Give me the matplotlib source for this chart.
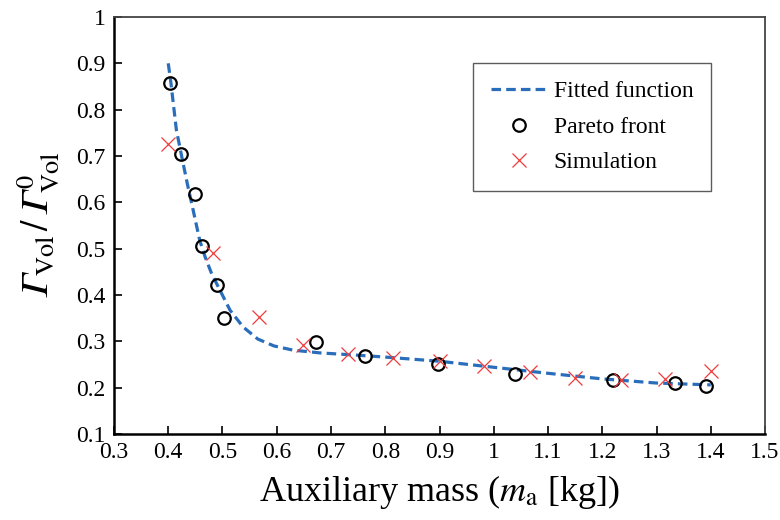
import numpy as np
import matplotlib
matplotlib.use("Agg")
import matplotlib.pyplot as plt

plt.rcParams['font.family'] = ['Liberation Serif', 'DejaVu Serif']
plt.rcParams['mathtext.fontset'] = 'stix'

# Pareto front (circles)
pareto_x = [0.403, 0.4235, 0.449, 0.462, 0.490, 0.503, 0.672, 0.762, 0.898, 1.040, 1.219, 1.334, 1.391]
pareto_y = [0.858, 0.704, 0.618, 0.505, 0.421, 0.351, 0.299, 0.268, 0.252, 0.230, 0.216, 0.209, 0.204]

# Simulation (crosses)
sim_x = [0.400, 0.483, 0.567, 0.648, 0.732, 0.815, 0.901, 0.982, 1.067, 1.150, 1.234, 1.316, 1.400]
sim_y = [0.725, 0.490, 0.353, 0.292, 0.272, 0.265, 0.258, 0.246, 0.234, 0.221, 0.216, 0.218, 0.236]

# Fitted function
fit_x = [0.400, 0.405, 0.415, 0.425, 0.435, 0.445, 0.458, 0.468, 0.480, 0.492, 0.514, 0.538,
         0.565, 0.595, 0.630, 0.680, 0.750, 0.800, 0.900, 1.000, 1.100, 1.200, 1.300, 1.400]
fit_y = [0.900, 0.857, 0.756, 0.698, 0.641, 0.588, 0.518, 0.482, 0.446, 0.418, 0.367, 0.331,
         0.305, 0.290, 0.281, 0.275, 0.270, 0.266, 0.257, 0.244, 0.231, 0.219, 0.210, 0.206]

fig = plt.figure(figsize=(7.8, 5.2), dpi=100)
ax = fig.add_axes([114/780, 1-434/520, 651/780, 417/520])

ax.plot(fit_x, fit_y, ls=(0, (3, 1.6)), color='#2a6ebb', lw=2.3, label='Fitted function')
ax.plot(pareto_x, pareto_y, 'o', mfc='none', mec='black', ms=9, mew=1.6, label='Pareto front')
ax.plot(sim_x, sim_y, 'x', color='#f03c3c', ms=10, mew=0.9, label='Simulation')

ax.set_xlim(0.3, 1.5)
ax.set_ylim(0.1, 1.0)
ax.set_xticks(np.arange(0.3, 1.51, 0.1))
ax.set_yticks(np.arange(0.1, 1.01, 0.1))
ax.set_xticklabels(['0.3', '0.4', '0.5', '0.6', '0.7', '0.8', '0.9', '1', '1.1', '1.2', '1.3', '1.4', '1.5'])
ax.set_yticklabels(['0.1', '0.2', '0.3', '0.4', '0.5', '0.6', '0.7', '0.8', '0.9', '1'])
ax.tick_params(direction='in', length=6, width=1.2, labelsize=17, pad=6)

for s in ['left', 'bottom']:
    ax.spines[s].set_linewidth(1.8)
    ax.spines[s].set_color('black')
for s in ['top', 'right']:
    ax.spines[s].set_linewidth(1.3)
    ax.spines[s].set_color('#444444')

ax.set_xlabel(r'Auxiliary mass ($m_{\mathrm{a}}$ [kg])', fontsize=26, labelpad=7)
# italic capital gamma (U+1D6E4) so mathtext keeps it slanted
ax.set_ylabel('$\U0001D6E4_{\\mathrm{Vol}}\\,/\\,\U0001D6E4_{\\mathrm{Vol}}^{0}$', fontsize=27, labelpad=10)

leg = ax.legend(loc='upper right', bbox_to_anchor=(0.917, 0.89), borderaxespad=0, fontsize=17,
                frameon=True, fancybox=False, edgecolor='#333333', handlelength=2.4,
                handletextpad=0.25, borderpad=0.75, labelspacing=0.6)
leg.get_frame().set_linewidth(1.0)

fig.savefig('out.png', dpi=100)
